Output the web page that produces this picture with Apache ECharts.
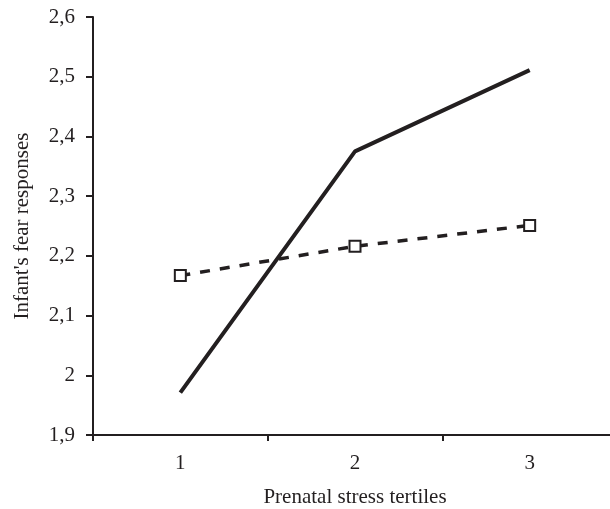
<!DOCTYPE html>
<html><head><meta charset="utf-8">
<script src="https://cdn.jsdelivr.net/npm/echarts@6/dist/echarts.min.js"></script>
<style>html,body{margin:0;padding:0;background:#fff;overflow:hidden;width:610px;height:509px}#c{width:617px;height:509px}</style>
</head><body><div id="c"></div>
<script>
const categories = ['1', '2', '3'];
const solidSeries = [1.971, 2.375, 2.511];
const dashedSeries = [2.167, 2.216, 2.251];
const yTicks = [1.9, 2.0, 2.1, 2.2, 2.3, 2.4, 2.5, 2.6];
const xName = 'Prenatal stress tertiles';
const yName = "Infant's fear responses";

const ink = '#231f20';
const font = 'Liberation Serif';
const chart = echarts.init(document.getElementById('c'));
chart.setOption({
  animation: false,
  grid: { left: 93, right: 0, top: 17, height: 418, outerBoundsMode: 'none', containLabel: false },
  xAxis: {
    type: 'category', data: categories, boundaryGap: true,
    name: xName, nameLocation: 'middle', nameGap: 52,
    nameTextStyle: { fontFamily: font, fontSize: 21, color: ink },
    axisLine: { lineStyle: { color: ink, width: 2 } },
    axisTick: { show: true, length: 6, lineStyle: { color: ink, width: 2 } },
    axisLabel: { fontFamily: font, fontSize: 21, color: ink, margin: 18 },
    splitLine: { show: false }
  },
  yAxis: {
    type: 'value', min: yTicks[0], max: yTicks[yTicks.length - 1], interval: 0.1,
    name: yName, nameLocation: 'middle', nameGap: 60,
    nameTextStyle: { fontFamily: font, fontSize: 21, color: ink },
    axisLine: { show: true, lineStyle: { color: ink, width: 2 } },
    axisTick: { show: true, length: 7, lineStyle: { color: ink, width: 2 } },
    axisLabel: {
      fontFamily: font, fontSize: 21, color: ink, margin: 18, padding: [4, 0, 0, 0],
      formatter: v => { const r = Math.round(v * 10) / 10; return (Number.isInteger(r) ? String(r) : r.toFixed(1)).replace('.', ','); }
    },
    splitLine: { show: false }
  },
  series: [
    {
      type: 'line', data: solidSeries, symbol: 'none',
      lineStyle: { color: ink, width: 4, type: 'solid' }
    },
    {
      type: 'line', data: dashedSeries, symbol: 'rect', symbolSize: 11,
      lineStyle: { color: ink, width: 3.5, type: [10, 10] },
      itemStyle: { color: '#fff', borderColor: ink, borderWidth: 2 }
    }
  ]
});
</script></body></html>
